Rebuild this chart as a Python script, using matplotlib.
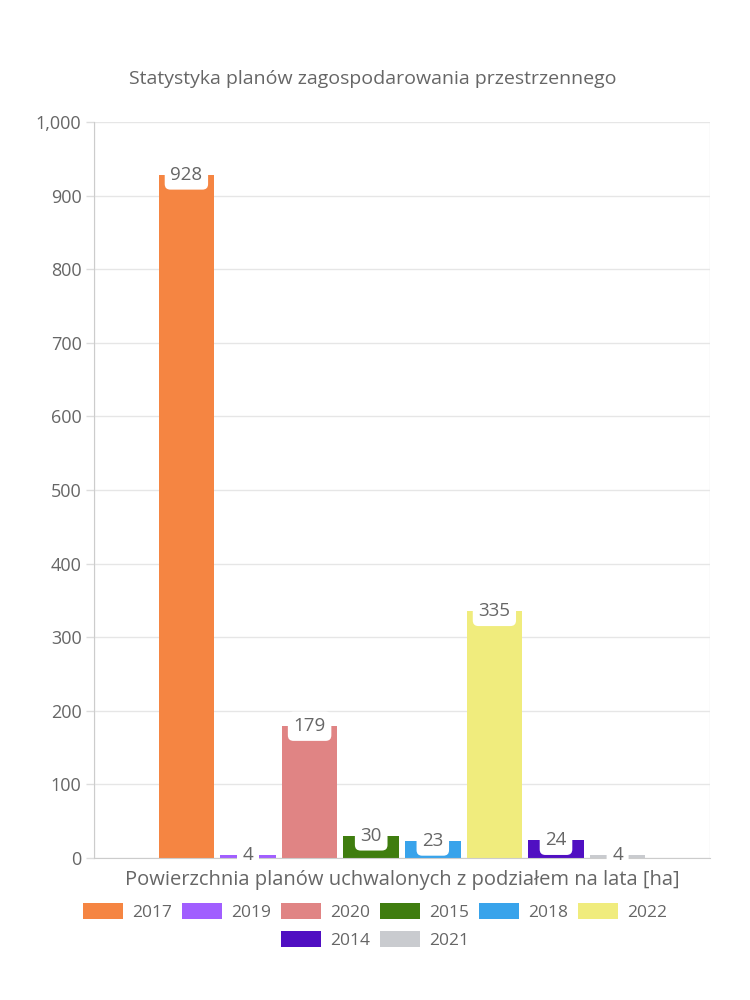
import matplotlib
matplotlib.use("Agg")
import matplotlib.pyplot as plt
from matplotlib.patches import Patch
from matplotlib.ticker import FuncFormatter, MultipleLocator

years = ["2017", "2019", "2020", "2015", "2018", "2022", "2014", "2021"]
values = [928, 4, 179, 30, 23, 335, 24, 4]
colors = ["#F58542", "#A15EFF", "#E08484", "#3F7D0F", "#38A3EB", "#F0EC7D", "#500FC2", "#C9CBCF"]
title = "Statystyka planów zagospodarowania przestrzennego"
xlabel = "Powierzchnia planów uchwalonych z podziałem na lata [ha]"

plt.rcParams["font.family"] = ["Open Sans", "DejaVu Sans"]
TXT = "#666666"

fig = plt.figure(figsize=(7.5, 10), dpi=100)
ax = fig.add_axes([94/750, 0.142, (710-94)/750, 0.736])

n = len(values)
slot = 0.8 / n
width = slot * 0.9
for i, (v, c) in enumerate(zip(values, colors)):
    x = (i - (n - 1) / 2) * slot
    ax.bar(x, v, width=width, color=c, zorder=2)
    ax.text(x, v, str(v), ha="center", va="center", fontsize=13.5, color=TXT, zorder=3,
            bbox=dict(boxstyle="round,pad=0.3,rounding_size=0.3", fc="white", ec="none"))

ax.set_xlim(-0.5, 0.5)
ax.set_ylim(0, 1000)
ax.yaxis.set_major_locator(MultipleLocator(100))
ax.yaxis.set_major_formatter(FuncFormatter(lambda v, p: f"{int(v):,}"))
ax.set_xticks([-0.5, 0.5])
ax.set_xticklabels([])
ax.tick_params(axis="x", length=0)
ax.tick_params(axis="y", length=6, width=1, color="#dddddd", labelsize=13, labelcolor=TXT, pad=3)
ax.grid(True, axis="both", color="#e6e6e6", linewidth=1, zorder=0)
for s in ["left", "bottom"]:
    ax.spines[s].set_color("#cccccc")
for s in ["top", "right"]:
    ax.spines[s].set_visible(False)

fig.text(0.497, 0.921, title, ha="center", va="center", fontsize=14, color=TXT)
fig.text(402/750, 0.120, xlabel, ha="center", va="center", fontsize=14.5, color=TXT)

handles = [Patch(facecolor=c, edgecolor="none", label=y) for y, c in zip(years, colors)]
kw = dict(frameon=False, fontsize=12.5, labelcolor=TXT, handlelength=2.3, handleheight=1.05,
          handletextpad=0.5, columnspacing=0.6, borderpad=0, borderaxespad=0)
leg1 = fig.legend(handles=handles[:6], ncol=6, loc="center", bbox_to_anchor=(0.5, 0.088), **kw)
leg2 = fig.legend(handles=handles[6:], ncol=2, loc="center", bbox_to_anchor=(0.5, 0.060), **kw)

fig.savefig("out.png", dpi=100, facecolor="white")
